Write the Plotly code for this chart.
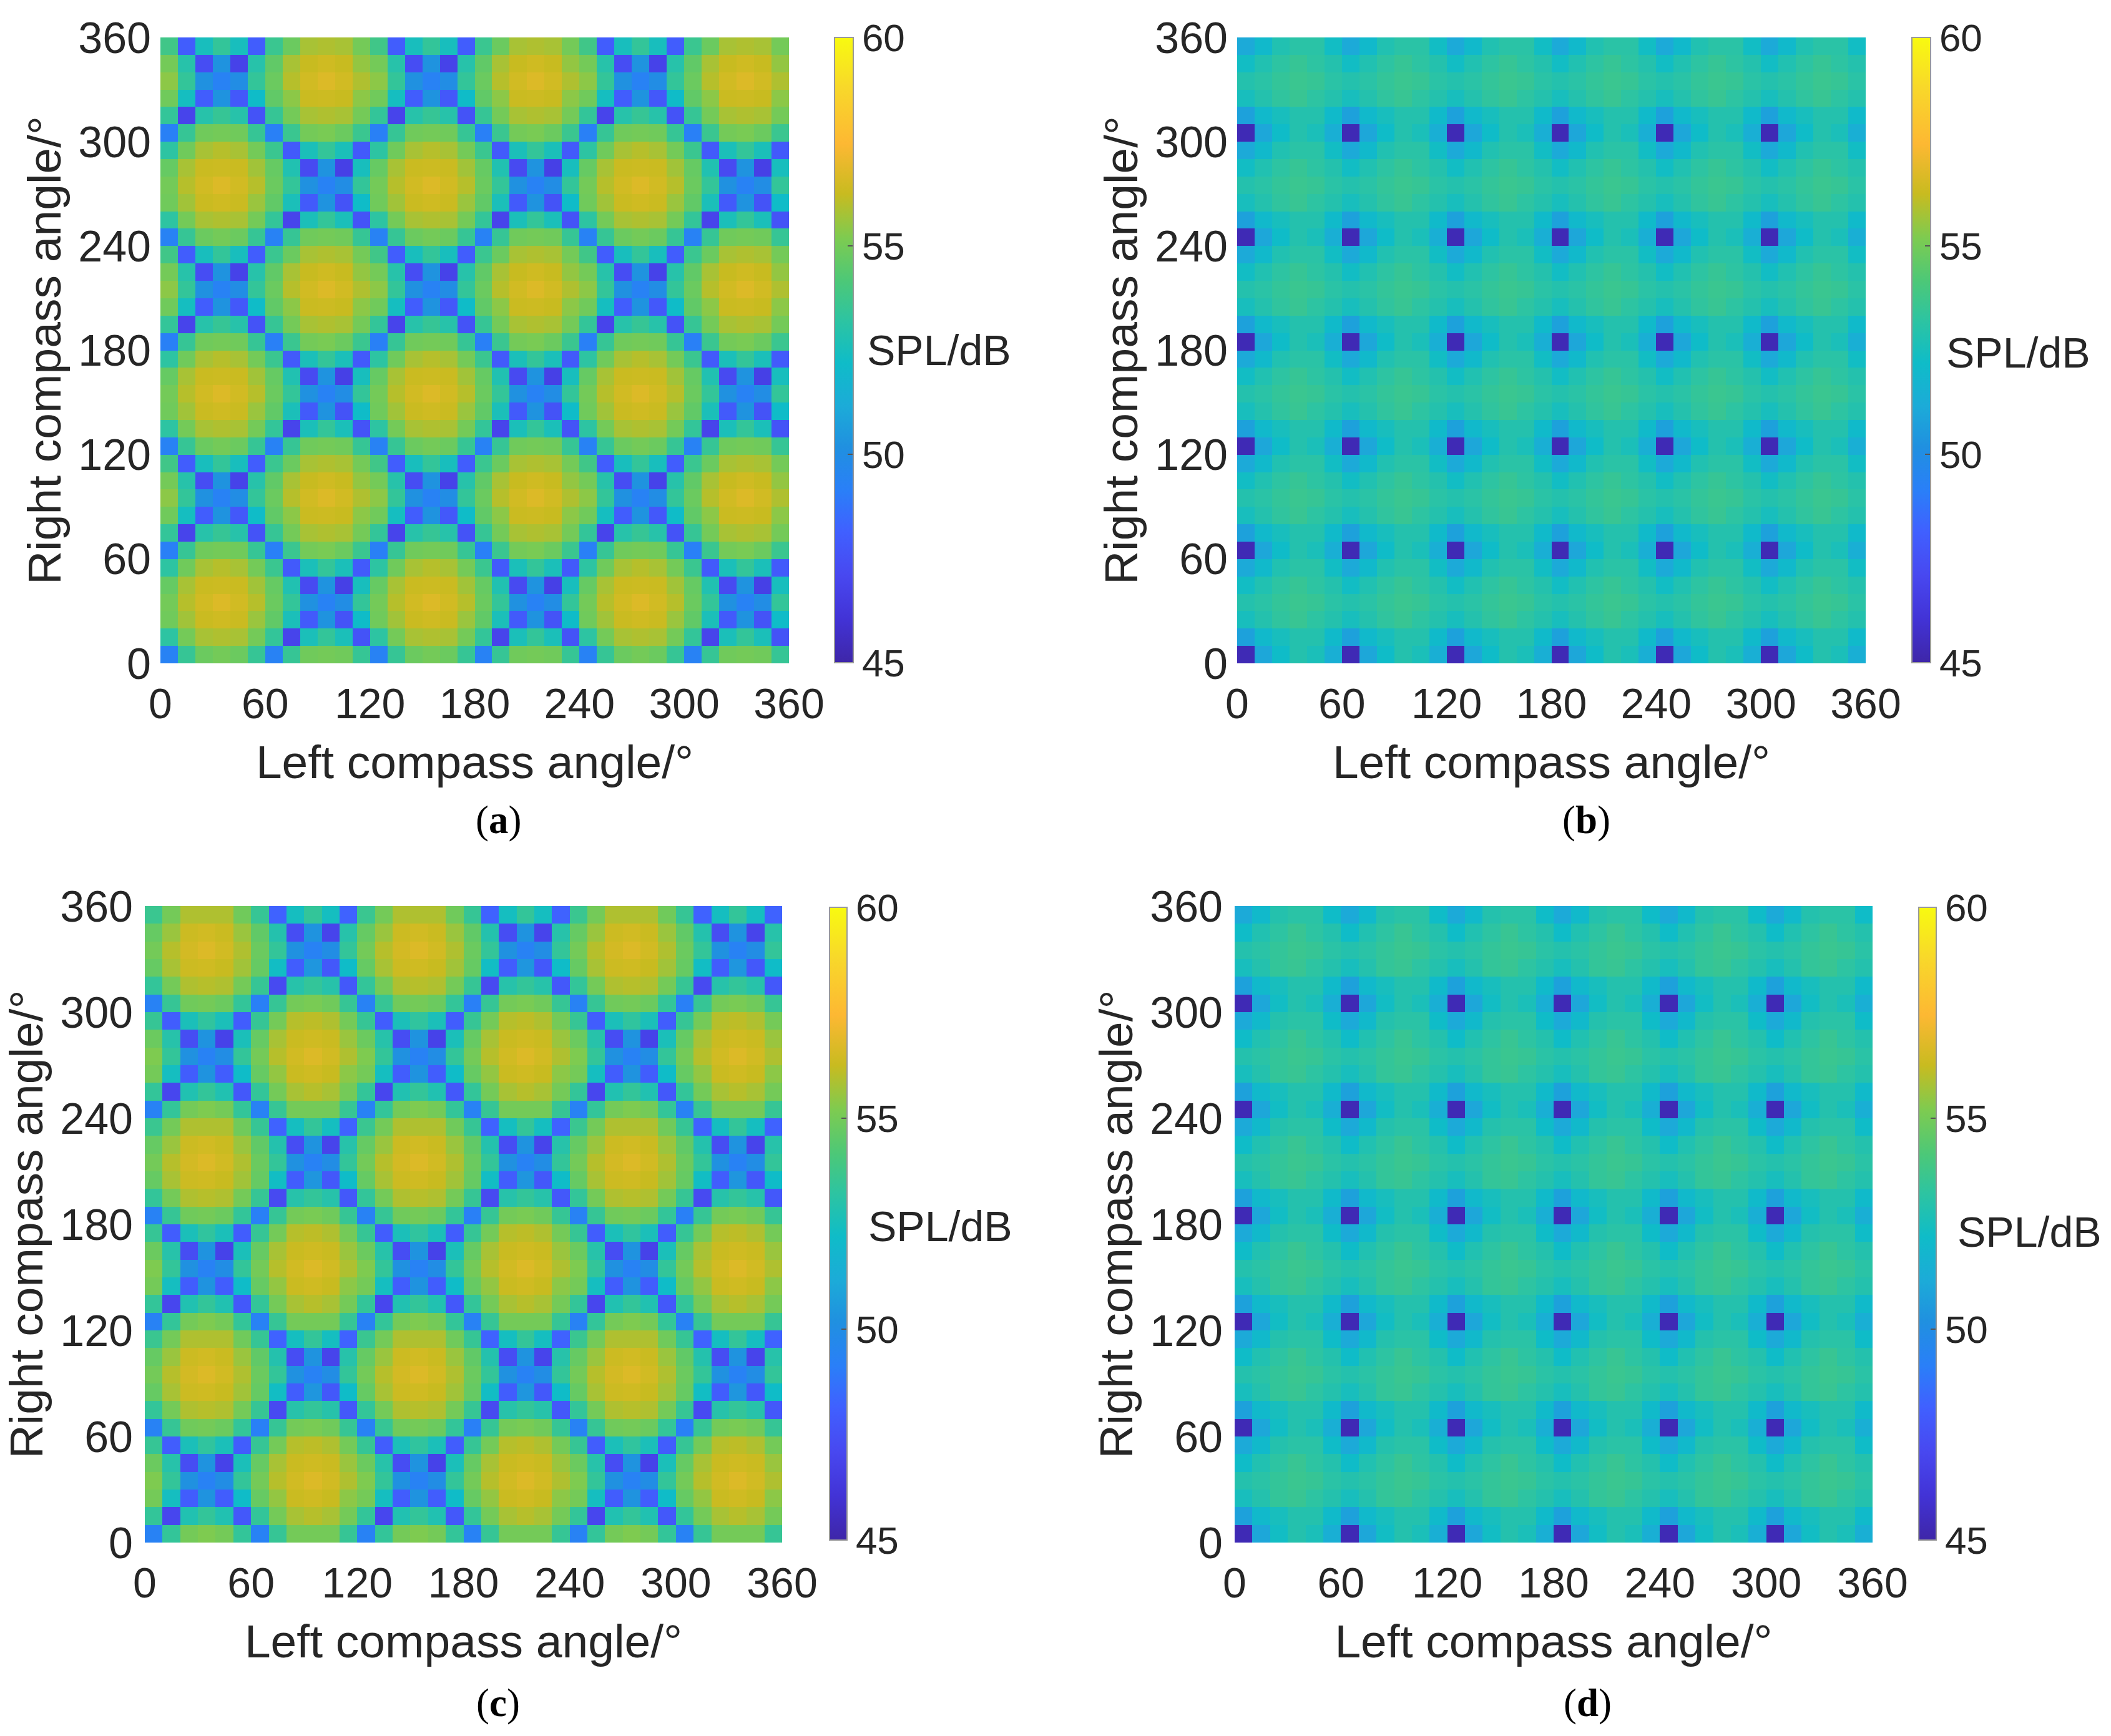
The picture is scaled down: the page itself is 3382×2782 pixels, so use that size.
import numpy as np
import plotly.graph_objects as go

# ===================================
# DATA (SPL in dB, top row first)
# ===================================
ANGLE_TICKS = [0, 60, 120, 180, 240, 300, 360]
SPL_TICKS = [45, 50, 55, 60]
CELL_X = list(range(5, 360, 10))
CELL_Y = list(range(355, 0, -10))

# the maps repeat every 120 deg in (a)/(c), and every 60 deg in (b)/(d)
TILE_A = [
    [53.8, 48.0, 52.5, 53.4, 52.5, 48.0, 53.6, 54.8, 55.8, 55.9, 55.8, 55.0],
    [55.0, 53.0, 47.3, 50.3, 46.8, 53.0, 54.6, 55.8, 56.25, 56.4, 56.25, 55.5],
    [55.4, 53.4, 50.2, 49.3, 50.0, 53.4, 54.8, 56.0, 56.45, 56.7, 56.45, 55.9],
    [54.9, 52.4, 48.0, 50.3, 47.8, 52.2, 54.6, 55.4, 56.3, 56.35, 56.25, 55.4],
    [53.4, 46.9, 53.0, 53.5, 53.0, 47.6, 53.5, 55.0, 55.8, 55.9, 55.8, 55.0],
    [49.2, 53.5, 54.9, 55.0, 54.9, 53.5, 49.2, 53.6, 55.0, 55.1, 54.8, 53.6],
    [53.2, 54.9, 55.8, 56.0, 55.8, 55.0, 53.6, 47.9, 52.6, 53.4, 52.6, 47.9],
    [54.7, 55.8, 56.3, 56.35, 56.3, 55.7, 54.7, 52.8, 47.2, 50.3, 46.7, 52.5],
    [55.0, 56.0, 56.45, 56.7, 56.45, 56.0, 54.8, 53.4, 50.2, 49.3, 50.0, 53.4],
    [54.9, 55.7, 56.3, 56.4, 56.3, 55.6, 54.6, 52.6, 47.9, 50.3, 47.6, 52.2],
    [53.2, 55.0, 55.8, 55.9, 55.8, 55.0, 53.4, 46.9, 52.6, 53.4, 52.6, 47.6],
    [49.3, 53.5, 54.8, 55.0, 54.8, 53.5, 49.3, 53.5, 54.9, 55.0, 54.9, 53.5],
]
TILE_C = [
    [53.6, 55.0, 55.9, 55.9, 55.9, 54.9, 53.5, 48.2, 52.4, 53.4, 52.4, 48.2],
    [54.7, 55.6, 56.35, 56.45, 56.3, 55.6, 54.6, 52.9, 47.3, 50.3, 46.9, 53.0],
    [55.0, 56.0, 56.5, 56.7, 56.45, 55.9, 54.8, 53.4, 50.2, 49.3, 50.0, 53.4],
    [54.7, 55.8, 56.35, 56.4, 56.25, 55.7, 54.7, 52.3, 48.0, 50.4, 47.8, 52.2],
    [53.4, 55.0, 55.9, 56.0, 55.9, 55.0, 53.5, 47.2, 53.0, 53.4, 53.0, 47.8],
    [49.3, 53.5, 54.9, 55.0, 54.8, 53.4, 49.2, 53.5, 55.0, 55.1, 54.9, 53.5],
    [53.5, 48.0, 52.6, 53.3, 52.6, 48.0, 53.5, 55.0, 56.0, 56.1, 55.9, 55.0],
    [54.8, 53.0, 47.3, 50.3, 46.8, 52.6, 54.7, 55.8, 56.3, 56.4, 56.3, 55.6],
    [55.2, 53.4, 50.2, 49.3, 50.0, 53.4, 55.0, 56.0, 56.45, 56.7, 56.45, 55.9],
    [55.0, 52.4, 48.0, 50.3, 48.0, 52.2, 54.7, 55.5, 56.3, 56.4, 56.25, 55.4],
    [53.4, 47.0, 52.8, 53.4, 52.8, 47.8, 53.4, 55.0, 55.8, 56.0, 55.8, 55.0],
    [49.3, 53.4, 55.0, 55.2, 55.0, 53.4, 49.3, 53.5, 55.0, 55.0, 55.0, 53.5],
]
TILE_B = [
    [51.1, 52.0, 52.8, 53.1, 53.1, 52.3],
    [52.3, 52.8, 53.2, 53.5, 53.2, 52.9],
    [52.9, 53.1, 53.4, 53.6, 53.5, 53.1],
    [52.5, 52.9, 53.3, 53.55, 53.2, 52.9],
    [50.8, 52.0, 52.5, 52.9, 52.9, 52.1],
    [45.3, 51.0, 52.2, 52.9, 52.6, 51.4],
]
TILE_D = [
    [51.1, 52.0, 52.9, 53.1, 53.1, 52.2],
    [52.2, 52.8, 53.2, 53.55, 53.2, 52.9],
    [52.9, 53.1, 53.4, 53.6, 53.5, 53.1],
    [52.5, 52.9, 53.4, 53.55, 53.2, 52.9],
    [50.8, 52.0, 52.5, 52.9, 52.9, 52.1],
    [45.3, 51.0, 52.3, 52.9, 52.6, 51.4],
]

# colours picked from the colour bar, bottom to top
BAR_STOPS = [0, 0.07, 0.14, 0.21, 0.275, 0.345, 0.41, 0.48, 0.55, 0.61, 0.68, 0.75, 0.83, 0.92, 1]
BAR_COLORS = ["#3e26a8", "#4233d6", "#4848f0", "#4060ff", "#2a7ff8", "#2090e0", "#1cabd8", "#0fbcc8",
              "#2ec4a0", "#4cc878", "#7ecb50", "#c8bb20", "#fdb833", "#f8d82a", "#f8fa10"]
PARULA = [[s, c] for s, c in zip(BAR_STOPS, BAR_COLORS)]

W, H = 3382, 2782
TEXT = "#262626"
FONT = "Liberation Sans"

# plot box in pixels: left, right, top, bottom, then colour bar left, right, top, bottom
PANELS = [
    dict(z=np.tile(TILE_A, (3, 3)), box=(257, 1264, 60, 1063), bar=(1337, 1367, 60, 1062),
         spl=(1504, 561), tag="a", tag_xy=(798, 1314), ylab_gap=14, ytitle_gap=2),
    dict(z=np.tile(TILE_B, (6, 6)), box=(1982, 2989, 60, 1063), bar=(3063, 3093, 60, 1062),
         spl=(3233, 565), tag="b", tag_xy=(2541, 1314), ylab_gap=14, ytitle_gap=2),
    dict(z=np.tile(TILE_C, (3, 3)), box=(232, 1253, 1452, 2472), bar=(1329, 1357, 1454, 2468),
         spl=(1506, 1965), tag="c", tag_xy=(798, 2729), ylab_gap=18, ytitle_gap=4),
    dict(z=np.tile(TILE_D, (6, 6)), box=(1978, 3000, 1452, 2472), bar=(3074, 3102, 1454, 2468),
         spl=(3251, 1974), tag="d", tag_xy=(2543, 2729), ylab_gap=18, ytitle_gap=2),
]

fig = go.Figure()
for i, p in enumerate(PANELS, start=1):
    l, r, t, b = p["box"]
    bl, br, bt, bb = p["bar"]
    xname = "x" if i == 1 else f"x{i}"
    yname = "y" if i == 1 else f"y{i}"
    fig.add_trace(go.Heatmap(
        z=p["z"], x=CELL_X, y=CELL_Y, xaxis=xname, yaxis=yname,
        colorscale=PARULA, zmin=45, zmax=60, zsmooth=False, hoverongaps=False,
        colorbar=dict(
            x=bl / W, xanchor="left", y=1 - bb / H, yanchor="bottom",
            len=(bb - bt) / H, lenmode="fraction", thickness=br - bl, thicknessmode="pixels",
            xpad=0, ypad=0, tickvals=SPL_TICKS, ticks="inside", ticklen=10, tickwidth=2,
            tickcolor="#555555", outlinecolor="#999999", outlinewidth=2,
            ticklabelposition="outside", tickfont=dict(family=FONT, size=62, color=TEXT),
        ),
    ))
    axis = dict(range=[0, 360], tickvals=ANGLE_TICKS, ticks="", showgrid=False, zeroline=False,
                showline=False, tickangle=0)
    fig.layout[f"xaxis{'' if i == 1 else i}"] = dict(
        axis, domain=[l / W, r / W], anchor=yname, ticklabelstandoff=19,
        tickfont=dict(family=FONT, size=68, color=TEXT),
        title=dict(text="Left compass angle/°", font=dict(family=FONT, size=75, color=TEXT), standoff=30))
    fig.layout[f"yaxis{'' if i == 1 else i}"] = dict(
        axis, domain=[1 - b / H, 1 - t / H], anchor=xname, ticklabelstandoff=p["ylab_gap"],
        tickfont=dict(family=FONT, size=70, color=TEXT),
        title=dict(text="Right compass angle/°", font=dict(family=FONT, size=75, color=TEXT),
                   standoff=p["ytitle_gap"]))
    fig.add_annotation(text="SPL/dB", xref="paper", yref="paper", x=p["spl"][0] / W, y=1 - p["spl"][1] / H,
                       xanchor="center", yanchor="middle", showarrow=False,
                       font=dict(family=FONT, size=68, color=TEXT))
    fig.add_annotation(text=f"(<b>{p['tag']}</b>)", xref="paper", yref="paper",
                       x=p["tag_xy"][0] / W, y=1 - p["tag_xy"][1] / H, xanchor="center", yanchor="middle",
                       showarrow=False, font=dict(family="Liberation Serif", size=63, color="black"))

fig.update_layout(width=W, height=H, margin=dict(l=0, r=0, t=0, b=0, autoexpand=False), showlegend=False,
                  paper_bgcolor="white", plot_bgcolor="white")
fig.write_html("out.html", config={"displayModeBar": False}, post_script="document.body.style.margin='0';")
